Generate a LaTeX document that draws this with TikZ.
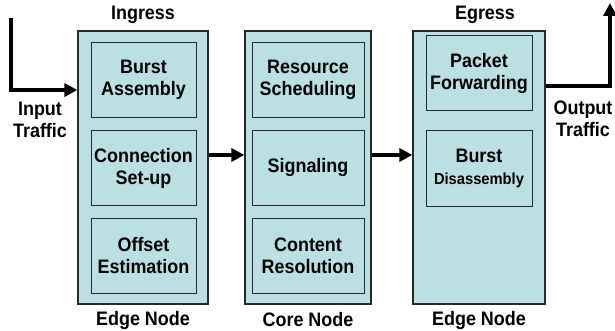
\documentclass[tikz,border=0pt]{standalone}
\usepackage{fontspec}
\setmainfont[FakeStretch=0.92]{Liberation Sans}
\usepackage{tikz}
\usetikzlibrary{positioning,arrows.meta}
\definecolor{paleteal}{RGB}{187,224,227}
\definecolor{edgegray}{RGB}{40,40,40}
\tikzset{
  outer/.style ={draw=edgegray, fill=paleteal, line width=1.2pt, minimum height=273pt},
  func/.style  ={draw=edgegray, fill=paleteal, line width=1pt, align=center,
                 font=\fontsize{19.5}{22}\selectfont\bfseries, inner sep=0pt, minimum height=75pt},
  flow/.style  ={-{Triangle[length=13pt,width=13pt]}, line width=4pt},
  lbl/.style   ={font=\fontsize{19.5}{22}\selectfont\bfseries, align=center, inner sep=0pt},
}
\begin{document}
\begin{tikzpicture}[x=1pt,y=-1pt,node distance=12pt]
\useasboundingbox (0,0) rectangle (615,331);
% three nodes
\node[outer,minimum width=130pt] (edgein) at (143,167.5) {};
\node[outer,minimum width=126pt] (core) at (308,167.5) {};
\node[outer,minimum width=132pt] (edgeout) at (479,167.5) {};
% ingress functions
\node[func,minimum width=105pt] (burst) at (143.5,80) {Burst\\Assembly};
\node[func,minimum width=105pt,below=of burst] (setup) {Connection\\Set-up};
\node[func,minimum width=105pt,below=of setup] (offset) {Offset\\Estimation};
% core functions
\node[func,minimum width=112pt] (sched) at (308,80) {Resource\\Scheduling};
\node[func,minimum width=112pt,below=of sched] (signal) {Signaling};
\node[func,minimum width=112pt,below=of signal] (content) {Content\\Resolution};
% egress functions
\node[func,minimum width=106pt] (fwd) at (479,73.5) {Packet\\Forwarding};
\node[func,minimum width=106pt,below=19pt of fwd] (disasm) {Burst\\{\fontsize{16}{18}\selectfont Disassembly}};
% labels
\node[lbl] (ing) at (143,15) {Ingress};
\node[lbl] (egr) at (485,15) {Egress};
\node[lbl] (edgelbl1) at (143,320) {Edge Node};
\node[lbl] (corelbl) at (308,320) {Core Node};
\node[lbl] (edgelbl2) at (479,320) {Edge Node};
\node[lbl] (intraf) at (40,120) {Input\\Traffic};
\node[lbl] (outtraf) at (583,119) {Output\\Traffic};
% traffic flow
\coordinate (src) at (11,18);
\coordinate (sink) at (610,3);
\draw[flow] (src) |- (edgein.west |- 0,90);
\draw[flow] (edgein.east |- 0,155) -- (core.west |- 0,155);
\draw[flow] (core.east |- 0,155) -- (edgeout.west |- 0,155);
\draw[flow] (edgeout.east |- 0,86) -| (sink);
\end{tikzpicture}
\end{document}
